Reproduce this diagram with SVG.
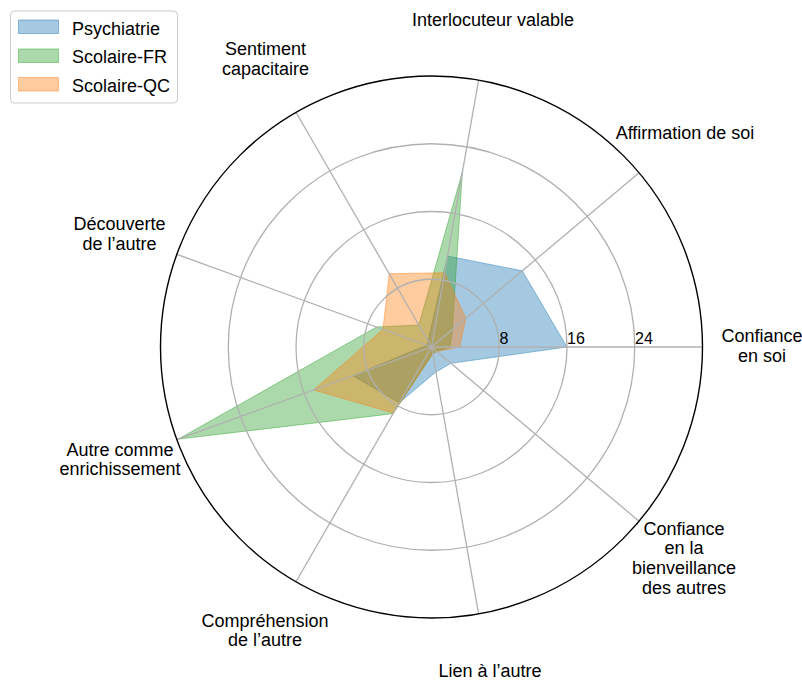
<svg xmlns="http://www.w3.org/2000/svg" width="802" height="681" viewBox="0 0 802 681">
<style>
text{font-family:"Liberation Sans",Arial,sans-serif;font-size:18px;fill:#000}
.lab{text-anchor:middle}
.tick{font-size:16px}
.grid{fill:none;stroke:#b0b0b0;stroke-width:1.3}
.spoke{stroke:#b0b0b0;stroke-width:1.3}
.psy{fill:#1f77b4;fill-opacity:0.4;stroke:#1f77b4;stroke-opacity:0.45;stroke-width:1}
.sfr{fill:#2ca02c;fill-opacity:0.4;stroke:#2ca02c;stroke-opacity:0.45;stroke-width:1}
.sqc{fill:#ff7f0e;fill-opacity:0.4;stroke:#ff7f0e;stroke-opacity:0.45;stroke-width:1}
</style>
<rect width="802" height="681" fill="#fff"/>
<g id="series">
<g id="psychiatrie"><polygon class="psy" points="567,347 522.3,270.8 447.5,256.1 428.1,341.1 426.7,345.3 352.7,375.7 399.3,402.7 435.9,372 451,363.3"/></g>
<g id="scolaire-fr"><polygon class="sfr" points="450.1,347 452.3,329.6 462.4,171.9 418.8,325 376.6,327 178.4,439.1 393,413.7 432.7,353.7 436.7,351.4"/></g>
<g id="scolaire-qc"><polygon class="sqc" points="459.5,347 465.9,318.2 444.6,272.8 389.2,273.7 383,329.3 313.7,389.9 393.4,413 432.7,353.7 436.7,351.4"/></g>
</g>
<g id="grid">
<circle class="grid" cx="431.5" cy="347" r="67.75"/>
<circle class="grid" cx="431.5" cy="347" r="135.5"/>
<circle class="grid" cx="431.5" cy="347" r="203.25"/>
</g>
<g id="connectors">
<line class="spoke" x1="431.5" y1="347" x2="702.5" y2="347"/>
<line class="spoke" x1="431.5" y1="347" x2="639.1" y2="172.8"/>
<line class="spoke" x1="431.5" y1="347" x2="478.6" y2="80.1"/>
<line class="spoke" x1="431.5" y1="347" x2="296" y2="112.3"/>
<line class="spoke" x1="431.5" y1="347" x2="176.8" y2="254.3"/>
<line class="spoke" x1="431.5" y1="347" x2="176.8" y2="439.7"/>
<line class="spoke" x1="431.5" y1="347" x2="296" y2="581.7"/>
<line class="spoke" x1="431.5" y1="347" x2="478.6" y2="613.9"/>
<line class="spoke" x1="431.5" y1="347" x2="639.1" y2="521.2"/>
</g>
<circle cx="431.5" cy="347" r="271" fill="none" stroke="#000" stroke-width="1.4"/>
<g id="ticks">
<text class="tick" x="499.5" y="343.5">8</text>
<text class="tick" x="567" y="343.5">16</text>
<text class="tick" x="635" y="343.5">24</text>
</g>
<g id="labels">
<text class="lab" x="762" y="342">Confiance</text>
<text class="lab" x="762" y="362">en soi</text>
<text class="lab" x="685" y="139">Affirmation de soi</text>
<text class="lab" x="493" y="26">Interlocuteur valable</text>
<text class="lab" x="265.5" y="55">Sentiment</text>
<text class="lab" x="265.5" y="75">capacitaire</text>
<text class="lab" x="119.5" y="230">Découverte</text>
<text class="lab" x="119.5" y="250">de l’autre</text>
<text class="lab" x="120" y="456">Autre comme</text>
<text class="lab" x="120" y="475">enrichissement</text>
<text class="lab" x="265" y="627">Compréhension</text>
<text class="lab" x="265" y="646">de l’autre</text>
<text class="lab" x="490" y="677">Lien à l’autre</text>
<text class="lab" x="684" y="535">Confiance</text>
<text class="lab" x="684" y="554">en la</text>
<text class="lab" x="684" y="574">bienveillance</text>
<text class="lab" x="684" y="594">des autres</text>
</g>
<g id="legend">
<rect x="10.5" y="11" width="167" height="92" rx="4" fill="#fff" fill-opacity="0.8" stroke="#cccccc" stroke-width="1"/>
<rect x="18.5" y="20" width="40" height="13.5" class="psy"/>
<rect x="18.5" y="49" width="40" height="13.5" class="sfr"/>
<rect x="18.5" y="77.5" width="40" height="13.5" class="sqc"/>
<text x="72" y="34.5">Psychiatrie</text>
<text x="72" y="63">Scolaire-FR</text>
<text x="72" y="91.5">Scolaire-QC</text>
</g>
</svg>
